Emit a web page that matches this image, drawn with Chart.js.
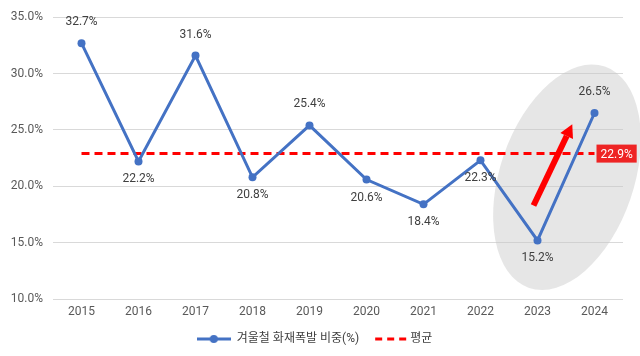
<!DOCTYPE html>
<html><head><meta charset="utf-8">
<script src="https://cdn.jsdelivr.net/npm/chart.js@4/dist/chart.umd.min.js"></script>
<style>html,body{margin:0;padding:0;background:#fff}#wrap{width:640px;height:356px}</style>
</head><body><div id="wrap"><canvas id="c"></canvas></div>
<script>
const years = ['2015','2016','2017','2018','2019','2020','2021','2022','2023','2024'];
const winterShare = [32.7,22.2,31.6,20.8,25.4,20.6,18.4,22.3,15.2,26.5];
const averageValue = 22.9;
const averageSeries = years.map(()=>averageValue);
const yTicks = [10,15,20,25,30,35];
const seriesNames = ['겨울철 화재폭발 비중(%)','평균'];

const FONT = "Roboto, 'Noto Sans CJK KR', sans-serif";
const BLUE = '#4472C4', RED = '#FF0000';

function makeIcon(kind){
  const c = document.createElement('canvas'); c.width = kind==='blue' ? 34 : 44; c.height = 10;
  const g = c.getContext('2d');
  if(kind==='blue'){
    g.strokeStyle=BLUE; g.lineWidth=3; g.beginPath(); g.moveTo(0,5); g.lineTo(34,5); g.stroke();
    g.fillStyle=BLUE; g.beginPath(); g.arc(17,5,4,0,Math.PI*2); g.fill();
  } else {
    g.strokeStyle=RED; g.lineWidth=3; g.setLineDash([7,5]); g.beginPath(); g.moveTo(10,5); g.lineTo(44,5); g.stroke();
  }
  return c;
}
const icons = [makeIcon('blue'), makeIcon('red')];

const decor = {
  id:'decor',
  beforeDatasetsDraw(chart){
    const {ctx, scales:{x,y}} = chart;
    const cx = x.getPixelForValue(8.5) + 1, cy = y.getPixelForValue(20.8);
    ctx.save();
    ctx.translate(cx, cy); ctx.rotate(0.33);
    ctx.fillStyle = 'rgba(200,200,200,0.45)';
    ctx.beginPath(); ctx.ellipse(0,0,67,117,0,0,Math.PI*2); ctx.fill();
    ctx.restore();
  },
  afterDatasetsDraw(chart){
    const {ctx, scales:{x,y}} = chart;
    const meta = chart.getDatasetMeta(0);
    ctx.save();
    ctx.font = '12px '+FONT; ctx.fillStyle='#404040'; ctx.textAlign='center'; ctx.textBaseline='middle';
    meta.data.forEach((p,i)=>{
      const v = winterShare[i];
      const above = v > averageValue;
      ctx.fillText(v.toFixed(1)+'%', p.x, above ? p.y-21 : p.y+18);
    });
    const am = chart.getDatasetMeta(1);
    const last = am.data[am.data.length-1];
    const txt = averageValue.toFixed(1)+'%';
    const w = ctx.measureText(txt).width + 8;
    ctx.fillStyle = '#EE2424';
    ctx.fillRect(last.x+2, last.y-9, w, 18);
    ctx.fillStyle = '#fff'; ctx.textAlign='left';
    ctx.fillText(txt, last.x+6, last.y+1);
    // arrow
    const x1 = x.getPixelForValue(7.93), y1 = y.getPixelForValue(18.3);
    const x2 = x.getPixelForValue(8.61), y2 = y.getPixelForValue(25.5);
    const ang = Math.atan2(y2-y1, x2-x1);
    const head = 13;
    const bx = x2 - head*Math.cos(ang), by = y2 - head*Math.sin(ang);
    ctx.strokeStyle = RED; ctx.fillStyle = RED; ctx.lineWidth = 6; ctx.lineCap='butt';
    ctx.beginPath(); ctx.moveTo(x1,y1); ctx.lineTo(bx,by); ctx.stroke();
    ctx.beginPath();
    ctx.moveTo(x2,y2);
    ctx.lineTo(bx + 7*Math.cos(ang+Math.PI/2), by + 7*Math.sin(ang+Math.PI/2));
    ctx.lineTo(bx + 7*Math.cos(ang-Math.PI/2), by + 7*Math.sin(ang-Math.PI/2));
    ctx.closePath(); ctx.fill();
    ctx.restore();
  }
};

new Chart(document.getElementById('c'), {
  type:'line',
  data:{
    labels: years,
    datasets:[
      {label: seriesNames[0], data: winterShare, borderColor: BLUE, backgroundColor: BLUE, borderWidth: 3,
       pointRadius: 4, pointHoverRadius: 4, pointBackgroundColor: BLUE, pointBorderWidth: 0, tension: 0, order: 1},
      {label: seriesNames[1], data: averageSeries, borderColor: RED, borderWidth: 3, borderDash: [8,5],
       pointRadius: 0, tension: 0, order: 2}
    ]
  },
  options:{
    responsive:true, maintainAspectRatio:false, animation:false,
    layout:{padding:{top:5,right:17,left:6,bottom:1}},
    plugins:{
      tooltip:{enabled:false},
      legend:{position:'bottom', labels:{
        font:{size:12, family:FONT}, color:'#404040', boxHeight:10, padding:11, usePointStyle:true, pointStyleWidth:34,
        generateLabels(chart){
          return chart.data.datasets.map((d,i)=>({text:d.label, pointStyle:icons[i], datasetIndex:i, hidden:false, fontColor:'#404040', lineWidth:0, strokeStyle:'transparent', fillStyle:'transparent'}));
        }
      }}
    },
    scales:{
      x:{offset:true, grid:{display:false}, border:{display:false},
         ticks:{font:{size:12,family:FONT}, color:'#595959', padding:-2},
         afterFit(s){ s.height = 23; }},
      y:{min:10, max:35, afterBuildTicks(s){ s.ticks = yTicks.map(v=>({value:v})); },
         grid:{color:'#D9D9D9', lineWidth:1, drawTicks:false}, border:{display:false},
         ticks:{font:{size:12,family:FONT}, color:'#595959', padding:10, callback:v=>v.toFixed(1)+'%'},
         afterFit(s){ s.width = 47; }}
    }
  },
  plugins:[decor]
});
</script></body></html>
